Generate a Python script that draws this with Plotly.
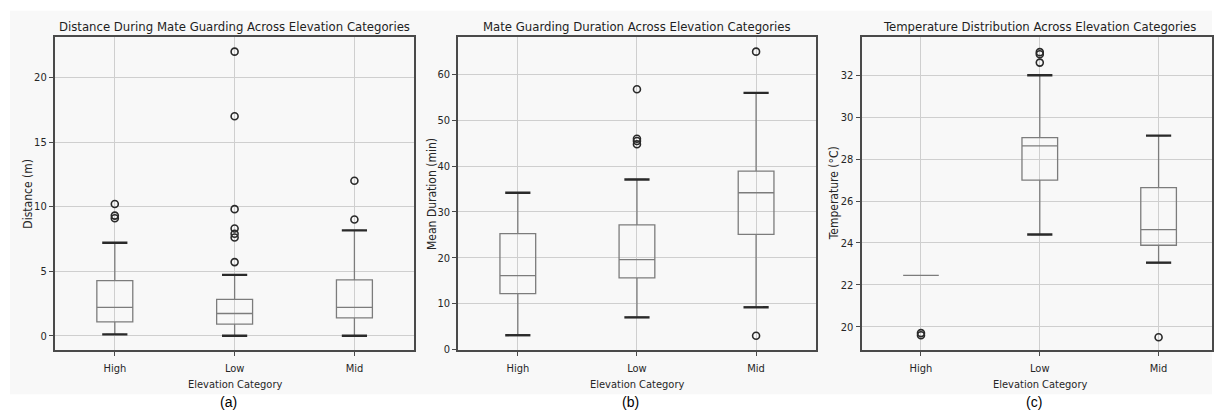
import plotly.graph_objects as go

# Elevation categories shared by all three panels
categories = ["High", "Low", "Mid"]

# Panel (a): distance during mate guarding (m)
dist_low_whisker = [0.1, 0.0, 0.0]
dist_q1 = [1.07, 0.9, 1.38]
dist_median = [2.2, 1.72, 2.2]
dist_q3 = [4.27, 2.82, 4.33]
dist_high_whisker = [7.2, 4.71, 8.16]
dist_outliers_high = [10.2, 9.3, 9.1]
dist_outliers_low = [22.0, 17.0, 9.8, 8.3, 7.9, 7.6, 5.7]
dist_outliers_mid = [12.0, 9.0]

# Panel (b): mean mate guarding duration (min)
dur_low_whisker = [3.1, 7.0, 9.2]
dur_q1 = [12.2, 15.6, 25.1]
dur_median = [16.1, 19.6, 34.2]
dur_q3 = [25.3, 27.2, 38.9]
dur_high_whisker = [34.2, 37.1, 56.0]
dur_outliers_high = []
dur_outliers_low = [56.8, 46.0, 45.5, 44.8]
dur_outliers_mid = [65.0, 3.0]

# Panel (c): temperature (°C)
temp_low_whisker = [22.45, 24.4, 23.06]
temp_q1 = [22.45, 27.0, 23.89]
temp_median = [22.45, 28.63, 24.64]
temp_q3 = [22.45, 29.02, 26.64]
temp_high_whisker = [22.45, 32.0, 29.12]
temp_outliers_high = [19.7, 19.6]
temp_outliers_low = [33.1, 33.0, 32.6]
temp_outliers_mid = [19.5]

titles = [
    "Distance During Mate Guarding Across Elevation Categories",
    "Mate Guarding Duration Across Elevation Categories",
    "Temperature Distribution Across Elevation Categories",
]
y_titles = ["Distance (m)", "Mean Duration (min)", "Temperature (°C)"]
x_title = "Elevation Category"
panel_tags = ["(a)", "(b)", "(c)"]

W, H = 1214, 417
FONT = "DejaVu Sans Condensed, Liberation Sans Narrow, DejaVu Sans, sans-serif"
BOX_COLOR = "#7c7c7c"
DARK = "#2a2a2a"
GRID = "#cfcfcf"
BG = "#f8f8f8"
TEXT = "#262626"

panels = [
    dict(lw=dist_low_whisker, q1=dist_q1, med=dist_median, q3=dist_q3, hw=dist_high_whisker,
         out=[dist_outliers_high, dist_outliers_low, dist_outliers_mid],
         px=(55, 415), yrange=[-1.1, 23.1], ticks=[0, 5, 10, 15, 20], ylab_x=28),
    dict(lw=dur_low_whisker, q1=dur_q1, med=dur_median, q3=dur_q3, hw=dur_high_whisker,
         out=[dur_outliers_high, dur_outliers_low, dur_outliers_mid],
         px=(459, 817), yrange=[-0.1, 68.1], ticks=[0, 10, 20, 30, 40, 50, 60], ylab_x=432),
    dict(lw=temp_low_whisker, q1=temp_q1, med=temp_median, q3=temp_q3, hw=temp_high_whisker,
         out=[temp_outliers_high, temp_outliers_low, temp_outliers_mid],
         px=(863, 1220), yrange=[18.9, 33.8], ticks=[20, 22, 24, 26, 28, 30, 32], ylab_x=835),
]

plot_top, plot_bottom = 38, 355
ydom = [1 - plot_bottom / H, 1 - plot_top / H]

fig = go.Figure()
layout_axes = {}
annotations = []


def label(text, x_px, y_px, font, angle=0):
    return dict(text=text, x=x_px / W, y=1 - y_px / H, xref="paper", yref="paper",
                xanchor="center", yanchor="middle", textangle=angle,
                showarrow=False, font=font)


for i, p in enumerate(panels):
    n = i + 1
    xa = "x" if n == 1 else f"x{n}"
    ya = "y" if n == 1 else f"y{n}"
    left, right = p["px"]
    unit = (right - left) / 3.0
    vis_right = min(right, W)
    xmax = -0.5 + (vis_right - left) / unit

    fig.add_trace(go.Box(
        x=categories, q1=p["q1"], median=p["med"], q3=p["q3"],
        lowerfence=p["lw"], upperfence=p["hw"],
        width=0.3, whiskerwidth=0.5, boxpoints=False,
        fillcolor="rgba(0,0,0,0)", line=dict(color=BOX_COLOR, width=1.3),
        xaxis=xa, yaxis=ya, showlegend=False, hoverinfo="skip",
    ))

    # whisker caps, only where a whisker extends beyond the box
    cap_x, cap_y = [], []
    for c, lo, q1, q3, hi in zip(categories, p["lw"], p["q1"], p["q3"], p["hw"]):
        if lo < q1:
            cap_x.append(c); cap_y.append(lo)
        if hi > q3:
            cap_x.append(c); cap_y.append(hi)
    fig.add_trace(go.Scatter(
        x=cap_x, y=cap_y, mode="markers",
        marker=dict(symbol="line-ew", size=18, line=dict(color=DARK, width=2.4)),
        xaxis=xa, yaxis=ya, showlegend=False, hoverinfo="skip",
    ))

    # outliers
    ox, oy = [], []
    for c, vals in zip(categories, p["out"]):
        ox += [c] * len(vals)
        oy += vals
    fig.add_trace(go.Scatter(
        x=ox, y=oy, mode="markers",
        marker=dict(symbol="circle-open", size=7, color=DARK, line=dict(color=DARK, width=1.6)),
        xaxis=xa, yaxis=ya, showlegend=False, hoverinfo="skip",
    ))

    axis_common = dict(
        showline=True, mirror=True, linecolor="#4a4a4a", linewidth=2,
        showgrid=True, gridcolor=GRID, gridwidth=1, zeroline=False,
        ticks="outside", ticklen=4, tickcolor="#4a4a4a",
        tickfont=dict(family=FONT, size=11, color=TEXT),
    )
    layout_axes["xaxis" if n == 1 else f"xaxis{n}"] = dict(
        axis_common, domain=[left / W, min(vis_right / W, 1.0)],
        type="category", categoryorder="array", categoryarray=categories,
        range=[-0.5, xmax], anchor=ya, ticklabelstandoff=3,
    )
    layout_axes["yaxis" if n == 1 else f"yaxis{n}"] = dict(
        axis_common, domain=ydom, range=p["yrange"], tickvals=p["ticks"], anchor=xa,
    )

    cx = (left + right) / 2
    annotations.append(label(titles[i], cx, 27, dict(family=FONT, size=13, color="#1e1e1e")))
    annotations.append(label(x_title, cx, 390, dict(family=FONT, size=11, color=TEXT)))
    annotations.append(label(y_titles[i], p["ylab_x"], (plot_top + plot_bottom) / 2,
                             dict(family=FONT, size=12, color=TEXT), angle=-90))
    annotations.append(label(panel_tags[i], cx - 6, 408,
                             dict(family="Liberation Sans, Arial", size=14, color="#000000")))

fig.update_layout(
    width=W, height=H, margin=dict(l=0, r=0, t=0, b=0),
    paper_bgcolor="white", plot_bgcolor=BG,
    annotations=annotations,
    shapes=[dict(type="rect", xref="paper", yref="paper", x0=10 / W, x1=1, y0=1 - 400 / H, y1=1 - 11 / H,
                 fillcolor=BG, line=dict(width=0), layer="below")],
    **layout_axes,
)

fig.write_html("out.html")
